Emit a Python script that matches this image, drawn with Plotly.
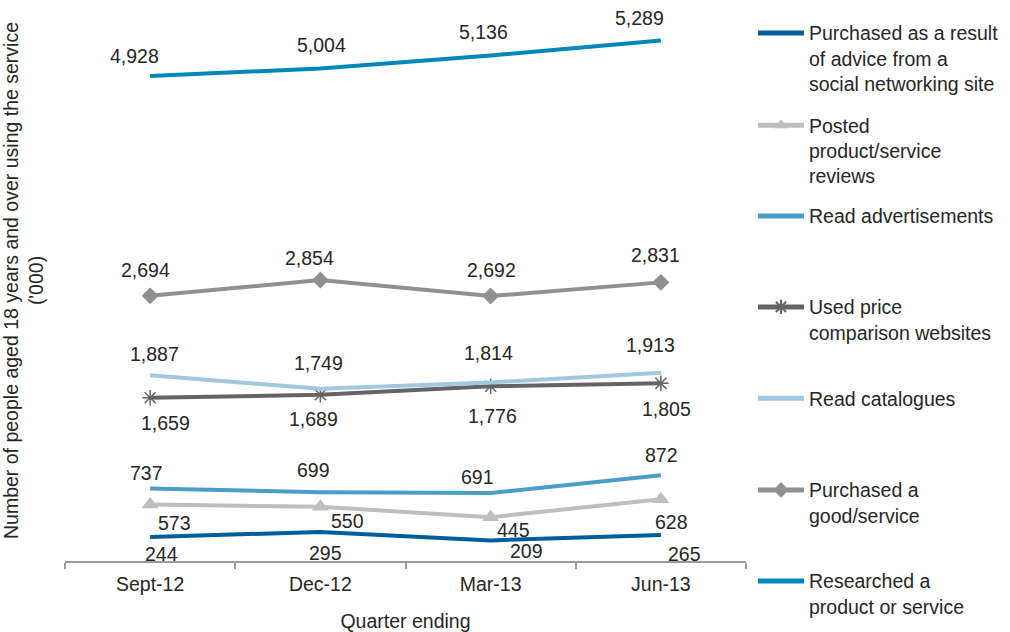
import plotly.graph_objects as go

# Quarterly counts ('000 people aged 18+)
quarters = ["Sept-12", "Dec-12", "Mar-13", "Jun-13"]
advice_purchase = [244, 295, 209, 265]
posted_reviews = [573, 550, 445, 628]
read_ads = [737, 699, 691, 872]
price_comparison = [1659, 1689, 1776, 1805]
read_catalogues = [1887, 1749, 1814, 1913]
purchased = [2694, 2854, 2692, 2831]
researched = [4928, 5004, 5136, 5289]

FONT = "Liberation Sans, Arial, sans-serif"
FS = 19.5
TXT = "#262626"

# name, values, colour, marker symbol, label offsets (dx right, dy down in px), legend symbol y (px)
series = [
    ("Purchased as a result<br>of advice from a<br>social networking site", advice_purchase, "#005D9B", None,
     [(11, 17), (5, 21), (36, 11), (24, 19)], 33.7),
    ("Posted<br>product/service<br>reviews", posted_reviews, "#BDBEC0", "triangle-up",
     [(24, 18), (27, 14), (23, 13), (11, 23)], 126),
    ("Read advertisements", read_ads, "#4B9DC9", None,
     [(-4, -15), (-7, -22), (-13, -16), (1, -20)], 216.7),
    ("Used price<br>comparison websites", price_comparison, "#646466", "asterisk-open",
     [(15, 25), (-7, 24), (2, 30), (6, 26)], 307.7),
    ("Read catalogues", read_catalogues, "#A2C7E1", None,
     [(4, -21), (-2, -26), (-2, -29), (-10, -28)], 399),
    ("Purchased a<br>good/service", purchased, "#8E9093", "diamond",
     [(-5, -26), (-11, -22), (1, -26), (-5, -27)], 490.7),
    ("Researched a<br>product or service", researched, "#0087BA", None,
     [(-16, -20), (1, -24), (-7, -24), (-21, -22)], 581.7),
]

PLOT_L, PLOT_R, PLOT_T, PLOT_B = 65, 746, 0, 561
W, H = 1010, 632

fig = go.Figure()
annotations = []
layout_legends = {}

for i, (name, vals, color, symbol, offsets, leg_y) in enumerate(series):
    legend_id = "legend" if i == 0 else f"legend{i + 1}"
    marker = dict(color=color, size=1)
    mode = "lines"
    if symbol == "triangle-up":
        mode = "lines+markers"
        marker = dict(symbol=symbol, color=color, size=15)
    elif symbol == "diamond":
        mode = "lines+markers"
        marker = dict(symbol=symbol, color=color, size=13)
    elif symbol == "asterisk-open":
        mode = "lines+markers"
        marker = dict(symbol=symbol, color=color, size=13, line=dict(color=color, width=1.5))
    fig.add_trace(go.Scatter(
        x=quarters, y=vals, name=name, mode=mode,
        line=dict(color=color, width=4),
        marker=marker, legend=legend_id, hoverinfo="x+y+name",
    ))
    for q, v, (dx, dy) in zip(quarters, vals, offsets):
        annotations.append(dict(
            x=q, y=v, xref="x", yref="y", text=f"{v:,}", showarrow=False,
            xanchor="center", yanchor="middle", xshift=dx, yshift=-dy,
            font=dict(family=FONT, size=FS, color=TXT),
        ))
    # one legend box per series, placed in container coordinates
    layout_legends[legend_id] = dict(
        xref="container", yref="container",
        x=753 / W, xanchor="left",
        y=1 - (leg_y - 20) / H, yanchor="top",
        valign="top", bgcolor="rgba(0,0,0,0)", borderwidth=0,
        font=dict(family=FONT, size=FS, color=TXT),
        itemsizing="constant", itemwidth=46,
    )

fig.update_layout(
    width=W, height=H,
    margin=dict(l=PLOT_L, r=W - PLOT_R, t=PLOT_T, b=H - PLOT_B, pad=0, autoexpand=False),
    paper_bgcolor="white", plot_bgcolor="white",
    template="none",
    font=dict(family=FONT, size=FS, color=TXT),
    showlegend=True,
    annotations=annotations,
    xaxis=dict(
        type="category", range=[-0.5, 3.5], automargin=False,
        showline=True, linecolor="#9A9A9A", linewidth=2,
        ticks="outside", ticklen=6, tickwidth=1.5, tickcolor="#9A9A9A",
        tickson="boundaries", showgrid=False, zeroline=False,
        ticklabelstandoff=5,
        tickfont=dict(family=FONT, size=FS, color=TXT),
        title=dict(text="Quarter ending", font=dict(family=FONT, size=FS, color=TXT), standoff=20),
    ),
    yaxis=dict(
        range=[0, 5700], automargin=False,
        showline=False, showticklabels=False, ticks="", showgrid=False, zeroline=False,
        title=dict(text="Number of people aged 18 years and over using the service<br>('000)",
                   font=dict(family=FONT, size=FS, color=TXT), standoff=17),
    ),
    **layout_legends,
)

fig.write_html("out.html")
